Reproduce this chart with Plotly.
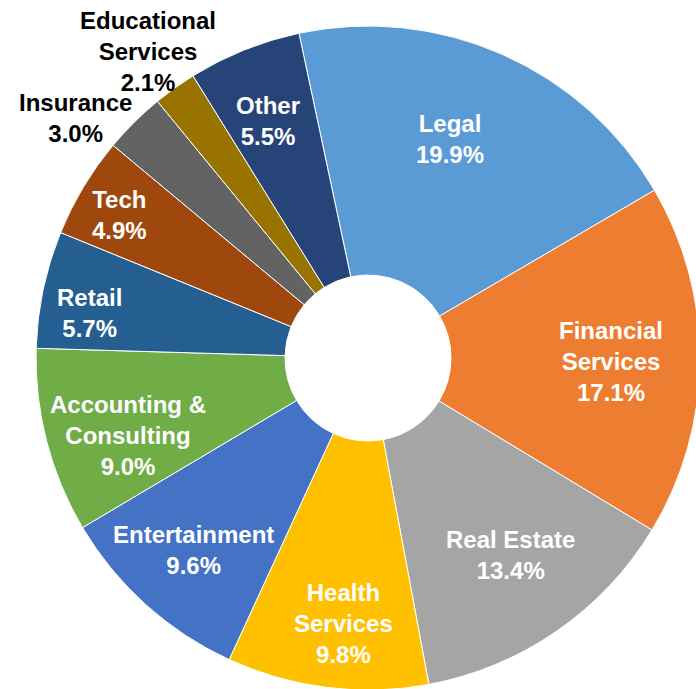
import plotly.graph_objects as go

# slice data, clockwise starting from Legal
sectors = [
    "Legal", "Financial Services", "Real Estate", "Health Services",
    "Entertainment", "Accounting & Consulting", "Retail", "Tech",
    "Insurance", "Educational Services", "Other",
]
shares = [19.9, 17.1, 13.4, 9.8, 9.6, 9.0, 5.7, 4.9, 3.0, 2.1, 5.5]
colors = [
    "#5B9BD5", "#ED7D31", "#A5A5A5", "#FFC000", "#4472C4", "#70AD47",
    "#255E91", "#9E480E", "#636363", "#997300", "#264478",
]

# label text as shown on the chart (line breaks) and its pixel centre
label_lines = [
    "Legal", "Financial<br>Services", "Real Estate", "Health<br>Services",
    "Entertainment", "Accounting &<br>Consulting", "Retail", "Tech",
    "Insurance", "Educational<br>Services", "Other",
]
label_px = [
    (450, 139), (611, 362), (510, 555), (343, 623), (193, 550), (128, 435),
    (90, 313), (119, 215), (75, 118), (148, 51), (268, 121),
]
outside = {"Insurance", "Educational Services"}

# the pie runs slightly past the right/bottom edge of the 696x689 window,
# so the figure is a bit larger and the page overflow is hidden
W, H = 702, 691

# pie centre and radius in pixels
cx, cy, r = 368, 358, 332

fig = go.Figure(
    go.Pie(
        labels=sectors,
        values=shares,
        sort=False,
        direction="clockwise",
        rotation=-12,
        hole=0.25,
        marker=dict(colors=colors, line=dict(color="white", width=1)),
        textinfo="none",
        hoverinfo="label+percent",
        showlegend=False,
        domain=dict(
            x=[(cx - r) / W, min(1.0, (cx + r) / W)],
            y=[max(0.0, (H - cy - r) / H), (H - cy + r) / H],
        ),
    )
)

for name, text, val, (px_, py_) in zip(sectors, label_lines, shares, label_px):
    fig.add_annotation(
        x=px_ / W,
        y=1 - py_ / H,
        xref="paper",
        yref="paper",
        text=f"{text}<br>{val:.1f}%",
        showarrow=False,
        font=dict(
            family="Liberation Sans, Arial, sans-serif",
            size=24,
            color="black" if name in outside else "white",
            weight="bold",
        ),
        align="center",
        xanchor="center",
        yanchor="middle",
    )

fig.update_layout(
    width=W,
    height=H,
    margin=dict(l=0, r=0, t=0, b=0),
    paper_bgcolor="white",
    plot_bgcolor="white",
)

fig.write_html(
    "out.html",
    config={"displayModeBar": False},
    post_script="document.body.style.margin='0';document.body.style.overflow='hidden';",
)
